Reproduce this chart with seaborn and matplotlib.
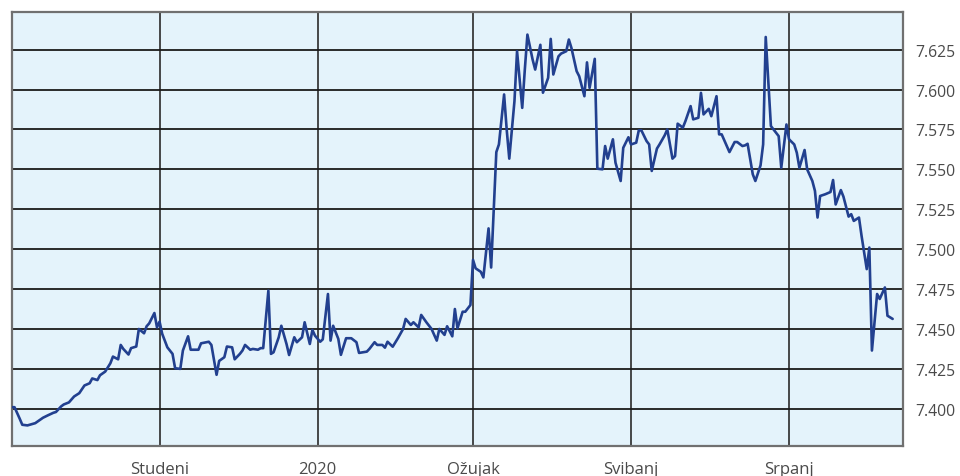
import matplotlib
matplotlib.use("Agg")
import matplotlib.pyplot as plt
import seaborn as sns
import pandas as pd

dates = [
    "2019-09-05", "2019-09-06", "2019-09-08", "2019-09-09", "2019-09-11", "2019-09-14",
    "2019-09-16", "2019-09-17", "2019-09-19", "2019-09-21", "2019-09-22", "2019-09-24",
    "2019-09-25", "2019-09-27", "2019-09-29", "2019-10-01", "2019-10-03", "2019-10-05",
    "2019-10-06", "2019-10-08", "2019-10-09", "2019-10-11", "2019-10-13", "2019-10-14",
    "2019-10-16", "2019-10-17", "2019-10-18", "2019-10-20", "2019-10-21", "2019-10-23",
    "2019-10-24", "2019-10-26", "2019-10-27", "2019-10-28", "2019-10-30", "2019-10-31",
    "2019-11-01", "2019-11-02", "2019-11-04", "2019-11-06", "2019-11-07", "2019-11-09",
    "2019-11-10", "2019-11-12", "2019-11-13", "2019-11-16", "2019-11-17", "2019-11-20",
    "2019-11-21", "2019-11-23", "2019-11-24", "2019-11-26", "2019-11-27", "2019-11-29",
    "2019-11-30", "2019-12-02", "2019-12-03", "2019-12-04", "2019-12-06", "2019-12-07",
    "2019-12-09", "2019-12-10", "2019-12-11", "2019-12-13", "2019-12-14", "2019-12-15",
    "2019-12-17", "2019-12-18", "2019-12-20", "2019-12-21", "2019-12-23", "2019-12-24",
    "2019-12-26", "2019-12-27", "2019-12-29", "2019-12-30", "2019-12-31",
    "2020-01-02", "2020-01-03", "2020-01-05", "2020-01-06", "2020-01-07", "2020-01-09",
    "2020-01-10", "2020-01-12", "2020-01-14", "2020-01-16", "2020-01-17", "2020-01-20",
    "2020-01-21", "2020-01-23", "2020-01-24", "2020-01-26", "2020-01-27", "2020-01-28",
    "2020-01-30", "2020-02-01", "2020-02-03", "2020-02-04", "2020-02-06", "2020-02-07",
    "2020-02-09", "2020-02-10", "2020-02-12", "2020-02-14", "2020-02-16", "2020-02-17",
    "2020-02-19", "2020-02-20", "2020-02-22", "2020-02-23", "2020-02-24", "2020-02-26",
    "2020-02-27", "2020-02-29", "2020-03-01", "2020-03-02", "2020-03-04", "2020-03-05",
    "2020-03-07", "2020-03-08", "2020-03-10", "2020-03-11", "2020-03-13", "2020-03-14",
    "2020-03-15", "2020-03-17", "2020-03-18", "2020-03-20", "2020-03-21", "2020-03-22",
    "2020-03-24", "2020-03-25", "2020-03-27", "2020-03-28", "2020-03-30", "2020-03-31",
    "2020-04-01", "2020-04-03", "2020-04-04", "2020-04-06", "2020-04-07", "2020-04-08",
    "2020-04-10", "2020-04-11", "2020-04-13", "2020-04-14", "2020-04-15", "2020-04-17",
    "2020-04-18", "2020-04-20", "2020-04-21", "2020-04-22", "2020-04-24", "2020-04-25",
    "2020-04-27", "2020-04-28", "2020-04-30", "2020-05-01", "2020-05-03", "2020-05-04",
    "2020-05-05", "2020-05-07", "2020-05-08", "2020-05-09", "2020-05-11", "2020-05-12",
    "2020-05-14", "2020-05-15", "2020-05-17", "2020-05-18", "2020-05-19", "2020-05-21",
    "2020-05-22", "2020-05-24", "2020-05-25", "2020-05-27", "2020-05-28", "2020-05-29",
    "2020-05-31", "2020-06-01", "2020-06-03", "2020-06-04", "2020-06-05", "2020-06-07",
    "2020-06-08", "2020-06-10", "2020-06-11", "2020-06-13", "2020-06-14", "2020-06-15",
    "2020-06-17", "2020-06-18", "2020-06-20", "2020-06-21", "2020-06-22", "2020-06-24",
    "2020-06-25", "2020-06-27", "2020-06-28", "2020-06-30", "2020-07-01", "2020-07-03",
    "2020-07-04", "2020-07-05", "2020-07-07", "2020-07-08", "2020-07-10", "2020-07-11",
    "2020-07-12", "2020-07-13", "2020-07-15", "2020-07-17", "2020-07-18", "2020-07-19",
    "2020-07-21", "2020-07-22", "2020-07-24", "2020-07-25", "2020-07-26", "2020-07-28",
    "2020-07-29", "2020-07-31", "2020-08-01", "2020-08-02", "2020-08-04", "2020-08-05",
    "2020-08-07", "2020-08-08", "2020-08-10",
]

rates = [
    7.4010, 7.4010, 7.3938, 7.3900, 7.3896, 7.3910,
    7.3933, 7.3944, 7.3960, 7.3975, 7.3980, 7.4015,
    7.4027, 7.4040, 7.4077, 7.4098, 7.4146, 7.4160,
    7.4190, 7.4180, 7.4210, 7.4233, 7.4285, 7.4327,
    7.4310, 7.4400, 7.4375, 7.4340, 7.4380, 7.4390,
    7.4500, 7.4473, 7.4517, 7.4535, 7.4600, 7.4510,
    7.4546, 7.4470, 7.4385, 7.4344, 7.4254, 7.4250,
    7.4365, 7.4454, 7.4370, 7.4370, 7.4410, 7.4420,
    7.4400, 7.4213, 7.4300, 7.4323, 7.4390, 7.4385,
    7.4310, 7.4344, 7.4365, 7.4400, 7.4370, 7.4375,
    7.4370, 7.4380, 7.4380, 7.4740, 7.4344, 7.4354,
    7.4448, 7.4520, 7.4406, 7.4337, 7.4448, 7.4417,
    7.4448, 7.4542, 7.4406, 7.4494, 7.4458,
    7.4420, 7.4435, 7.4719, 7.4427, 7.4520, 7.4438,
    7.4338, 7.4442, 7.4442, 7.4417, 7.4350, 7.4358,
    7.4375, 7.4417, 7.4400, 7.4400, 7.4383, 7.4420,
    7.4389, 7.4442, 7.4500, 7.4563, 7.4525, 7.4542,
    7.4510, 7.4588, 7.4542, 7.4500, 7.4427, 7.4500,
    7.4463, 7.4517, 7.4454, 7.4625, 7.4504, 7.4608,
    7.4608, 7.4650, 7.4933, 7.4880, 7.4858, 7.4823,
    7.5130, 7.4885, 7.5608, 7.5656, 7.5969, 7.5750,
    7.5567, 7.5927, 7.6240, 7.5885, 7.6125, 7.6344,
    7.6188, 7.6125, 7.6280, 7.5980, 7.6073, 7.6317,
    7.6094, 7.6208, 7.6225, 7.6240, 7.6313, 7.6260,
    7.6115, 7.6083, 7.5958, 7.6170, 7.6010, 7.6192,
    7.5504, 7.5500, 7.5646, 7.5567, 7.5688, 7.5542,
    7.5427, 7.5635, 7.5701, 7.5656, 7.5667, 7.5744,
    7.5744, 7.5677, 7.5656, 7.5490, 7.5630, 7.5656,
    7.5713, 7.5750, 7.5567, 7.5583, 7.5786, 7.5761,
    7.5802, 7.5896, 7.5813, 7.5823, 7.5979, 7.5844,
    7.5879, 7.5833, 7.5958, 7.5719, 7.5719, 7.5646,
    7.5608, 7.5671, 7.5671, 7.5646, 7.5650, 7.5660,
    7.5469, 7.5427, 7.5525, 7.5656, 7.6329, 7.5771,
    7.5750, 7.5708, 7.5510, 7.5781, 7.5688, 7.5656,
    7.5604, 7.5510, 7.5621, 7.5500, 7.5427, 7.5365,
    7.5198, 7.5333, 7.5344, 7.5358, 7.5433, 7.5280,
    7.5370, 7.5329, 7.5204, 7.5219, 7.5177, 7.5198,
    7.5083, 7.4875, 7.5010, 7.4365, 7.4719, 7.4688,
    7.4760, 7.4583, 7.4563,
]

tick_dates = ["2019-11-01", "2020-01-01", "2020-03-01", "2020-05-01", "2020-07-01"]
tick_labels = ["Studeni", "2020", "Ožujak", "Svibanj", "Srpanj"]
y_ticks = [7.400, 7.425, 7.450, 7.475, 7.500, 7.525, 7.550, 7.575, 7.600, 7.625]

df = pd.DataFrame({"date": pd.to_datetime(dates), "rate": rates})

sns.set_style("white")
plt.rcParams["font.family"] = ["Open Sans", "DejaVu Sans"]

fig = plt.figure(figsize=(9.6, 4.77), dpi=100)
ax = fig.add_axes([0.0122, 0.0635, 0.9281, 0.9099])
ax.set_facecolor("#e4f3fb")

sns.lineplot(data=df, x="date", y="rate", ax=ax, color="#22408f",
             linewidth=1.9, zorder=3)

ax.set_xlim(pd.Timestamp("2019-09-04 22:00"), pd.Timestamp("2020-08-13 21:00"))
ax.set_ylim(7.376875, 7.64875)

ax.set_yticks(y_ticks)
ax.set_yticklabels([f"{v:.3f}" for v in y_ticks])
ax.yaxis.tick_right()
ax.set_xticks(pd.to_datetime(tick_dates))
ax.set_xticklabels(tick_labels)

ax.tick_params(axis="y", length=0, pad=9, labelsize=11.3, labelcolor="#4a4a4a")
ax.tick_params(axis="x", length=0, pad=11, labelsize=12, labelcolor="#4a4a4a")

ax.grid(True, axis="y", color="#1a1a1a", linewidth=1.3, zorder=1)
ax.grid(True, axis="x", color="#2a2a2a", linewidth=1.2, zorder=1)
ax.set_axisbelow(True)

for s in ax.spines.values():
    s.set_color("#707070")
    s.set_linewidth(1.6)

ax.set_xlabel("")
ax.set_ylabel("")

fig.savefig("out.png", dpi=100)
